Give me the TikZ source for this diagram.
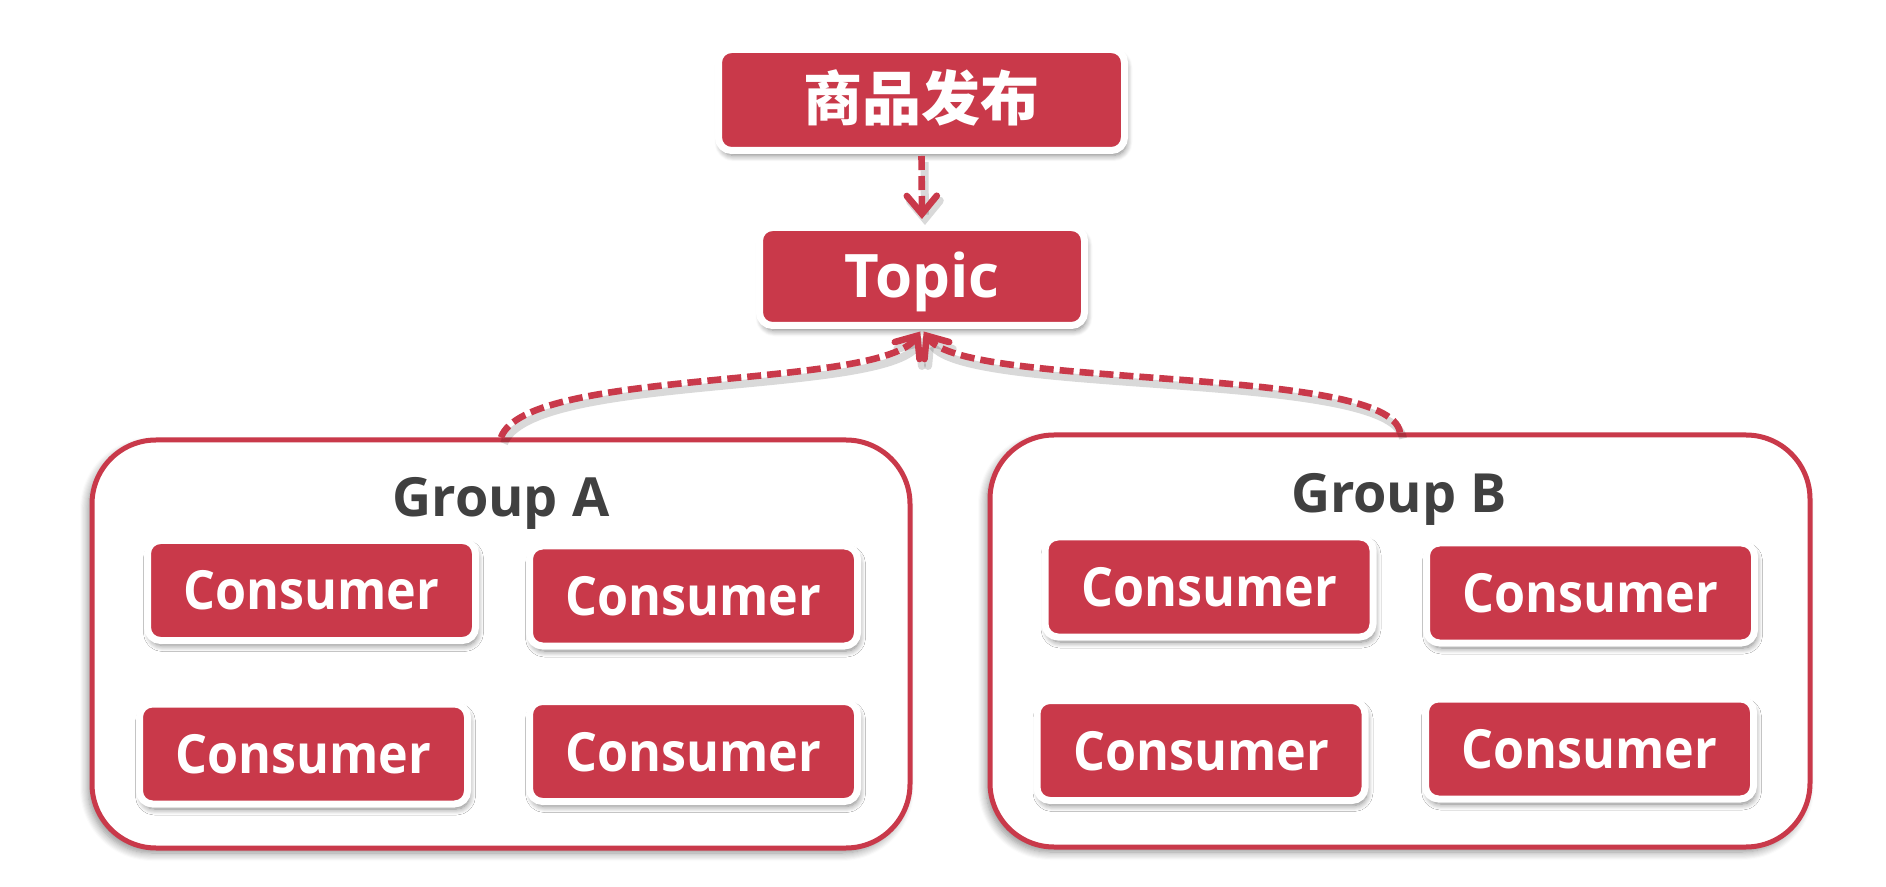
\documentclass[tikz,border=0pt]{standalone}
\usepackage{fontspec}
\setmainfont{Open Sans}
\newfontfamily\consfont{Open Sans}[FakeStretch=0.93]
\newfontfamily\cjk{Noto Sans CJK SC}
\usetikzlibrary{arrows.meta,shadows.blur}
\definecolor{mqred}{HTML}{C9394A}
\definecolor{mqgray}{HTML}{404040}
\tikzset{
  redbox/.style={draw=white, line width=3.5pt, fill=mqred, rounded corners=6.5pt,
    text=white, font=\bfseries\fontsize{27}{30}\selectfont,
    text height=19.5pt, text depth=0pt, inner sep=0pt,
    blur shadow={shadow xshift=1pt, shadow yshift=-2.5pt, shadow blur steps=8, shadow blur radius=3pt, shadow opacity=50}},
  consbox/.style={redbox, minimum width=164pt, minimum height=50pt,
    font=\consfont\bfseries\fontsize{27}{30}\selectfont},
  groupbox/.style={draw=mqred, line width=2.5pt, fill=white, rounded corners=32pt,
    blur shadow={shadow xshift=-2pt, shadow yshift=-2.5pt, shadow blur steps=8, shadow blur radius=4pt, shadow opacity=45}},
  grouplabel/.style={text=mqgray, font=\bfseries\fontsize{27}{30}\selectfont, anchor=base, inner sep=0pt},
  flow/.style={draw=mqred, line width=3.3pt, dash pattern=on 7pt off 3pt,
    -{Straight Barb[length=9pt,width=15pt,line cap=round]},
    preaction={draw=black, opacity=0.15, line width=4pt, transform canvas={shift={(1.5pt,-3pt)}}}}
}
\begin{document}
\begin{tikzpicture}[x=0.5pt,y=-0.5pt]
\useasboundingbox (0,0) rectangle (1886,887);
% groups
\node[groupbox, minimum width=409pt, minimum height=204pt] (gA) at (501,644) {};
\node[groupbox, minimum width=410pt, minimum height=206pt] (gB) at (1400,641) {};
\node[grouplabel] (la) at (501,517) {Group A};
\node[grouplabel] (lb) at (1399,513) {Group B};
% top boxes
\node[redbox, minimum width=203pt, minimum height=50.5pt, font=\cjk\bfseries\fontsize{29.5}{32}\selectfont, text height=23pt, text depth=2.5pt] (pub) at (921.5,100) {商品发布};
\node[redbox, minimum width=162.5pt, minimum height=49pt, font=\bfseries\fontsize{30}{33}\selectfont, text height=21.5pt] (topic) at (922,276.5) {Topic};
% consumers
\node[consbox] (c1) at (311.5,590.5) {Consumer};
\node[consbox] (c2) at (693.5,596) {Consumer};
\node[consbox] (c3) at (303.5,754) {Consumer};
\node[consbox] (c4) at (693.5,751.5) {Consumer};
\node[consbox] (c5) at (1209,587) {Consumer};
\node[consbox] (c6) at (1590.5,593) {Consumer};
\node[consbox] (c7) at (1201,750.5) {Consumer};
\node[consbox] (c8) at (1589.5,749) {Consumer};
% connectors
\draw[flow, shorten <=1pt, shorten >=2.5pt] (pub.south) -- (topic.north);
\draw[flow, shorten >=1.5pt] (gA.north) .. controls +(25,-70) and +(-42,61) .. (topic.south);
\draw[flow, shorten >=1.5pt] (gB.north) .. controls +(-10,-68) and +(42,61) .. (topic.south);
\end{tikzpicture}
\end{document}
